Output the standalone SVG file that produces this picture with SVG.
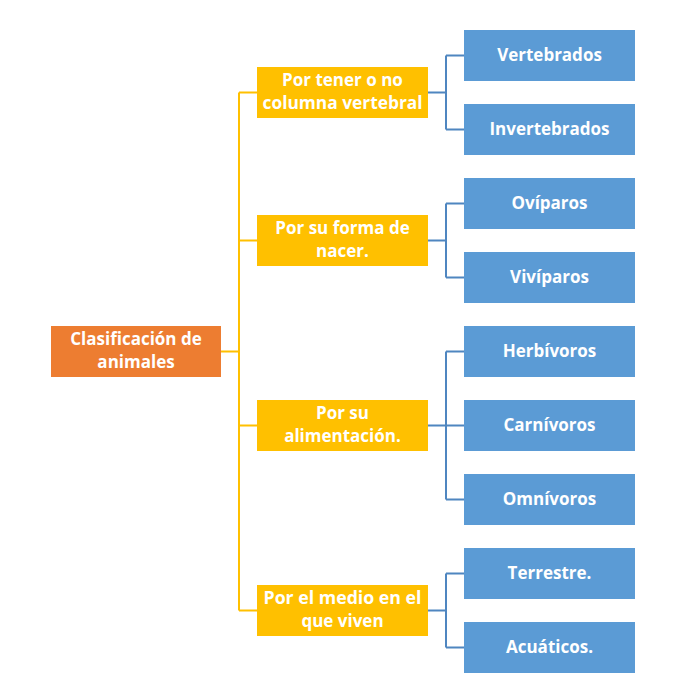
<svg xmlns="http://www.w3.org/2000/svg" width="693" height="695" viewBox="0 0 693 695">
<style>
.t{font-family:"Open Sans","Noto Sans","Liberation Sans",sans-serif;font-weight:bold;font-size:17px;fill:#fff;text-anchor:middle}
.root{fill:#ED7D31}
.l1{fill:#FFC000}
.leaf{fill:#5B9BD5}
.cy{stroke:#FFC000;stroke-width:2;fill:none}
.cb{stroke:#4F86C0;stroke-width:2;fill:none}
</style>
<rect width="693" height="695" fill="#fff"/>
<g id="connectors">
<path class="cy" d="M221 351.5H239M239 92.5V610.5M239 92.5H257M239 240.5H257M239 425.5H257M239 610.5H257"/>
<path class="cb" d="M428 92.5H446M446 55.5V129.5M446 55.5H464M446 129.5H464"/>
<path class="cb" d="M428 240.5H446M446 203.5V277.5M446 203.5H464M446 277.5H464"/>
<path class="cb" d="M428 425.5H464M446 351.5V499.5M446 351.5H464M446 499.5H464"/>
<path class="cb" d="M428 610.5H446M446 573.5V647.5M446 573.5H464M446 647.5H464"/>
</g>
<g id="root"><rect class="root" x="51" y="326" width="170" height="51"/><text class="t" x="136" y="345">Clasificación de</text><text class="t" x="136" y="368">animales</text></g>
<g id="c1"><rect class="l1" x="257" y="67" width="171" height="51"/><text class="t" x="342.5" y="86">Por tener o no</text><text class="t" x="342.5" y="109" textLength="160" lengthAdjust="spacingAndGlyphs">columna vertebral</text></g>
<g id="c2"><rect class="l1" x="257" y="215" width="171" height="51"/><text class="t" x="342.5" y="234">Por su forma de</text><text class="t" x="342.5" y="257">nacer.</text></g>
<g id="c3"><rect class="l1" x="257" y="400" width="171" height="51"/><text class="t" x="342.5" y="419">Por su</text><text class="t" x="342.5" y="442">alimentación.</text></g>
<g id="c4"><rect class="l1" x="257" y="585" width="171" height="51"/><text class="t" x="342.5" y="604" textLength="158" lengthAdjust="spacingAndGlyphs">Por el medio en el</text><text class="t" x="342.5" y="627">que viven</text></g>
<g id="vertebrados"><rect class="leaf" x="464" y="30" width="171" height="51"/><text class="t" x="549.5" y="61">Vertebrados</text></g>
<g id="invertebrados"><rect class="leaf" x="464" y="104" width="171" height="51"/><text class="t" x="549.5" y="135">Invertebrados</text></g>
<g id="oviparos"><rect class="leaf" x="464" y="178" width="171" height="51"/><text class="t" x="549.5" y="209">Ovíparos</text></g>
<g id="viviparos"><rect class="leaf" x="464" y="252" width="171" height="51"/><text class="t" x="549.5" y="283">Vivíparos</text></g>
<g id="herbivoros"><rect class="leaf" x="464" y="326" width="171" height="51"/><text class="t" x="549.5" y="357">Herbívoros</text></g>
<g id="carnivoros"><rect class="leaf" x="464" y="400" width="171" height="51"/><text class="t" x="549.5" y="431">Carnívoros</text></g>
<g id="omnivoros"><rect class="leaf" x="464" y="474" width="171" height="51"/><text class="t" x="549.5" y="505">Omnívoros</text></g>
<g id="terrestre"><rect class="leaf" x="464" y="548" width="171" height="51"/><text class="t" x="549.5" y="579">Terrestre.</text></g>
<g id="acuaticos"><rect class="leaf" x="464" y="622" width="171" height="51"/><text class="t" x="549.5" y="653">Acuáticos.</text></g>
</svg>
